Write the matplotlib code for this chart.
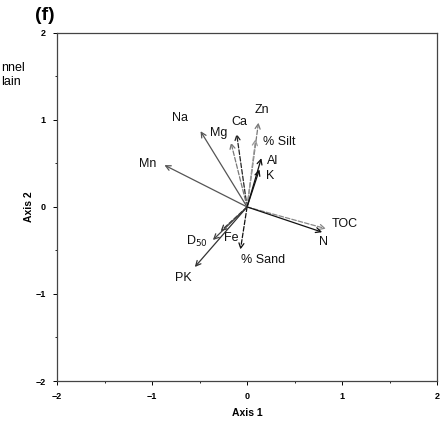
import numpy as np
import matplotlib
matplotlib.use("Agg")
import matplotlib.pyplot as plt
from matplotlib.ticker import MultipleLocator

plt.rcParams['font.family'] = ['Liberation Sans', 'DejaVu Sans']

# loadings of each variable on axis 1 / axis 2
variables = ["Zn", "Ca", "Mg", "Na", "% Silt", "Al", "K", "Mn",
             "TOC", "N", "Fe", "D$_{50}$", "% Sand", "PK"]
axis1 = [0.12, -0.11, -0.17, -0.49, 0.09, 0.15, 0.13, -0.87,
         0.83, 0.79, -0.28, -0.36, -0.07, -0.55]
axis2 = [0.97, 0.84, 0.74, 0.87, 0.78, 0.56, 0.43, 0.48,
         -0.25, -0.29, -0.28, -0.38, -0.49, -0.69]

# label placement (data coords) and arrow styles
label_pos = [(0.16, 1.11), (-0.08, 0.97), (-0.30, 0.85), (-0.71, 1.02),
             (0.34, 0.75), (0.27, 0.53), (0.24, 0.35), (-1.05, 0.49),
             (1.03, -0.20), (0.80, -0.40), (-0.17, -0.36), (-0.53, -0.40),
             (0.17, -0.61), (-0.67, -0.82)]
styles = [("--", "#777777"), ("--", "#222222"), ("--", "#777777"), ("-", "#555555"),
          ("--", "#999999"), ("-", "#111111"), ("-", "#111111"), ("-", "#555555"),
          ("--", "#888888"), ("-", "#111111"), ("--", "#333333"), ("-", "#444444"),
          ("--", "#111111"), ("-", "#333333")]

fig = plt.figure(figsize=(4.46, 4.21), dpi=100)
ax = fig.add_axes([0.128, 0.095, 0.852, 0.827])

for name, x, y, (lx, ly), (ls, c) in zip(variables, axis1, axis2, label_pos, styles):
    ax.annotate("", xy=(x, y), xytext=(0, 0),
                arrowprops=dict(arrowstyle="->", color=c, lw=0.9, linestyle=ls,
                                shrinkA=0, shrinkB=0, mutation_scale=9))
    ax.text(lx, ly, name, fontsize=9, ha="center", va="center", color="#111111")

ax.set_xlim(-2, 2)
ax.set_ylim(-2, 2)
ax.xaxis.set_major_locator(MultipleLocator(1))
ax.yaxis.set_major_locator(MultipleLocator(1))
ax.xaxis.set_minor_locator(MultipleLocator(0.5))
ax.yaxis.set_minor_locator(MultipleLocator(0.5))
ax.tick_params(which="major", labelsize=6.5, length=3, width=0.7, direction="out", pad=5)
ax.tick_params(which="minor", length=1.5, width=0.6, direction="out")
for lab in ax.get_xticklabels() + ax.get_yticklabels():
    lab.set_fontweight("bold")
for sp in ax.spines.values():
    sp.set_color("#444444")
    sp.set_linewidth(0.9)

ax.set_xlabel("Axis 1", fontsize=7.5, fontweight="bold", labelpad=5)
ax.set_ylabel("Axis 2", fontsize=7.5, fontweight="bold", labelpad=1)

fig.text(0.078, 0.962, "(f)", fontsize=14, fontweight="bold", ha="left", va="center")
# legend entries cut off at the left edge in the source figure
fig.text(0.002, 0.838, "nnel", fontsize=9, ha="left", va="center")
fig.text(0.002, 0.805, "lain", fontsize=9, ha="left", va="center")

fig.savefig("out.png", dpi=100)
